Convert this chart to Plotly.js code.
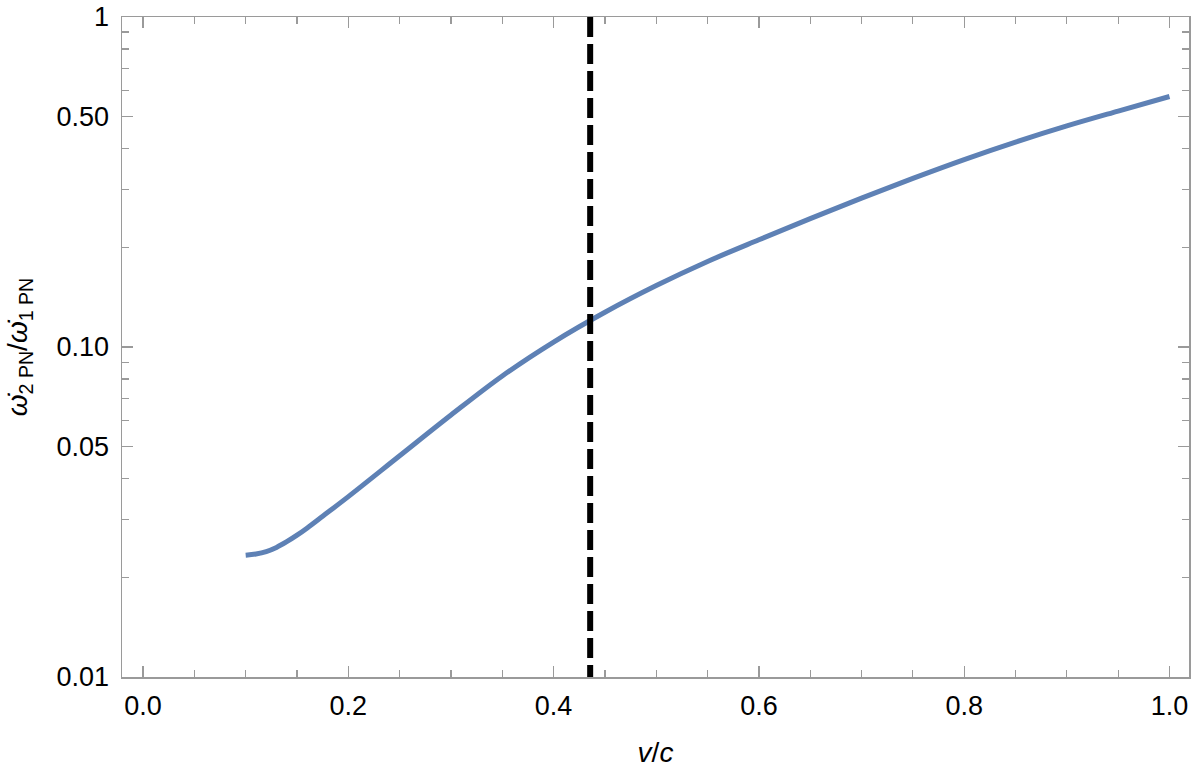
<!DOCTYPE html>
<html>
<head>
<meta charset="utf-8">
<script src="https://cdn.plot.ly/plotly-3.0.1.min.js"></script>
<style>html,body{margin:0;padding:0;background:#fff;}#chart{width:1200px;height:777px;}</style>
</head>
<body>
<div id="chart"></div>
<script>
// v/c values
const velocity = [0.10, 0.11, 0.12, 0.13, 0.14, 0.15, 0.16, 0.175, 0.20, 0.25, 0.30, 0.35, 0.40, 0.45, 0.50, 0.55, 0.60, 0.65, 0.70, 0.75, 0.80, 0.85, 0.90, 0.95, 1.00];
// ratio of 2PN to 1PN periastron advance rate
const ratio = [0.0234, 0.0236, 0.0240, 0.0247, 0.0257, 0.0269, 0.0283, 0.0307, 0.0352, 0.0468, 0.0622, 0.0817, 0.1035, 0.1274, 0.1535, 0.1816, 0.2113, 0.2449, 0.2825, 0.3243, 0.3698, 0.4178, 0.4677, 0.5188, 0.5741];
// vertical marker
const markerV = 0.4356;
const markerY = [1, 0.01];

const xMajor = [0, 0.2, 0.4, 0.6, 0.8, 1.0];
const xMajorText = ["0.0", "0.2", "0.4", "0.6", "0.8", "1.0"];
const yMajor = [0.01, 0.05, 0.1, 0.5, 1];
const yMajorText = ["0.01", "0.05", "0.10", "0.50", "1"];
const yMinor = [0.02, 0.03, 0.04, 0.06, 0.07, 0.08, 0.09, 0.2, 0.3, 0.4, 0.6, 0.7, 0.8, 0.9];

const frameColor = "#9a9a9a";
const font = "Liberation Sans, Arial, sans-serif";

const traces = [
  {
    x: velocity, y: ratio, type: "scatter", mode: "lines",
    line: {color: "#5e81b5", width: 5, shape: "spline", smoothing: 1},
    hoverinfo: "x+y", showlegend: false
  },
  {
    x: [markerV, markerV], y: markerY, type: "scatter", mode: "lines",
    line: {color: "#000000", width: 6, dash: "20px,7px"},
    hoverinfo: "x", showlegend: false
  }
];

const layout = {
  width: 1200, height: 777,
  margin: {l: 122, r: 11, t: 17, b: 100, pad: 0},
  paper_bgcolor: "#fff", plot_bgcolor: "#fff",
  font: {family: font, size: 27, color: "#000"},
  xaxis: {
    range: [-0.0205, 1.019],
    showgrid: false, zeroline: false,
    showline: true, linecolor: frameColor, linewidth: 1.5, mirror: "ticks",
    ticks: "inside", ticklen: 11, tickwidth: 1.2, tickcolor: frameColor,
    tickmode: "array", tickvals: xMajor, ticktext: xMajorText,
    tickfont: {family: font, size: 27, color: "#000"},
    ticklabelstandoff: 4,
    minor: {dtick: 0.05, tick0: 0, ticks: "inside", ticklen: 7, tickwidth: 1.2, tickcolor: frameColor, showgrid: false},
    title: {text: "<i>v</i>/<i>c</i>", font: {family: font, size: 28, color: "#000"}, standoff: 22},
    automargin: false
  },
  yaxis: {
    type: "log",
    range: [-2, 0],
    showgrid: false, zeroline: false,
    showline: true, linecolor: frameColor, linewidth: 1.5, mirror: "ticks",
    ticks: "inside", ticklen: 11, tickwidth: 1.2, tickcolor: frameColor,
    tickmode: "array", tickvals: yMajor, ticktext: yMajorText,
    tickfont: {family: font, size: 27, color: "#000"},
    ticklabelstandoff: 6,
    minor: {tickmode: "array", tickvals: yMinor, ticks: "inside", ticklen: 7, tickwidth: 1.2, tickcolor: frameColor, showgrid: false},
    title: {text: "<i>ω̇</i><sub>2 PN</sub>/<i>ω̇</i><sub>1 PN</sub>", font: {family: font, size: 28, color: "#000"}, standoff: 20},
    automargin: false
  }
};

Plotly.newPlot("chart", traces, layout, {displayModeBar: false, staticPlot: true});
</script>
</body>
</html>
